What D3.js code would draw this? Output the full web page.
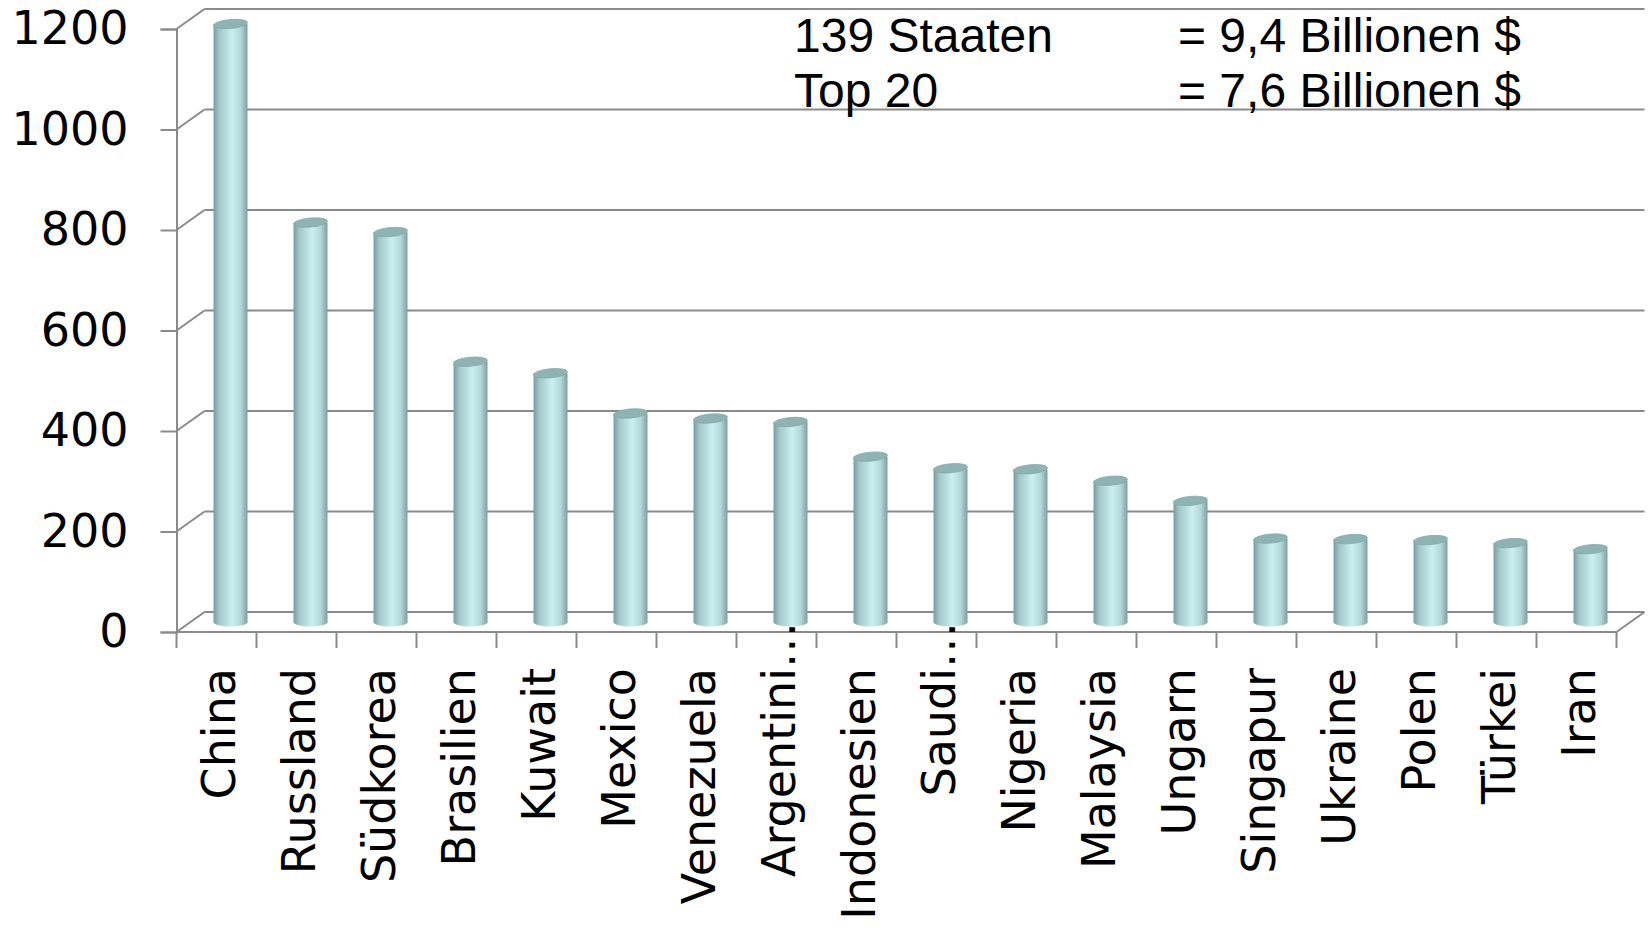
<!DOCTYPE html>
<html>
<head>
<meta charset="utf-8">
<script src="https://cdn.jsdelivr.net/npm/d3@7"></script>
<style>
  body { margin: 0; background: #fff; }
  svg { display: block; }
  .ylab, .xlab { font-family: "DejaVu Sans", Verdana, sans-serif; fill: #000; }
  .note { font-family: "Liberation Sans", Arial, sans-serif; fill: #000; }
</style>
</head>
<body>
<svg id="chart" width="1650" height="928"></svg>
<script>
// top 20 countries (18 shown)
let countries = ['China', 'Russland', 'Südkorea', 'Brasilien', 'Kuwait', 'Mexico', 'Venezuela', 'Argentinien',
    'Indonesien', 'Saudi-Arabien', 'Nigeria', 'Malaysia', 'Ungarn', 'Singapur', 'Ukraine', 'Polen', 'Türkei', 'Iran']
let shownLabels = ['China', 'Russland', 'Südkorea', 'Brasilien', 'Kuwait', 'Mexico', 'Venezuela', 'Argentini',
    'Indonesien', 'Saudi', 'Nigeria', 'Malaysia', 'Ungarn', 'Singapur', 'Ukraine', 'Polen', 'Türkei', 'Iran']
let truncated = [false, false, false, false, false, false, false, true,
    false, true, false, false, false, false, false, false, false, false]
let values = [1190, 795, 776, 518, 495, 415, 405, 398, 329, 306, 304, 281, 241, 166, 165, 163, 157, 145]
let yTicks = [0, 200, 400, 600, 800, 1000, 1200]
let noteLeft = ['139 Staaten', 'Top 20']
let noteRight = ['= 9,4 Billionen $', '= 7,6 Billionen $']

let svg = d3.select('#chart')
let depthX = 28, depthY = -20
let lineColor = '#8a8a8a'

let x = d3.scaleBand().domain(countries).range([176.5, 1616.5])
let y = d3.scaleLinear().domain([0, 1200]).range([632, 29])

let defs = svg.append('defs')
let grad = defs.append('linearGradient').attr('id', 'cyl').attr('x1', 0).attr('x2', 1).attr('y1', 0).attr('y2', 0)
grad.append('stop').attr('offset', '0%').attr('stop-color', '#7a9c9e')
grad.append('stop').attr('offset', '18%').attr('stop-color', '#a3c9cb')
grad.append('stop').attr('offset', '55%').attr('stop-color', '#caf0f2')
grad.append('stop').attr('offset', '80%').attr('stop-color', '#b2d8da')
grad.append('stop').attr('offset', '100%').attr('stop-color', '#7b9fa1')

// back wall gridlines
let grid = svg.append('g')
grid.selectAll('line.back')
    .data(yTicks)
    .join('line')
    .attr('class', 'back')
    .attr('x1', x.range()[0] + depthX).attr('x2', x.range()[1] + depthX)
    .attr('y1', d => y(d) + depthY).attr('y2', d => y(d) + depthY)
    .attr('stroke', lineColor).attr('stroke-width', 2)

// side wall diagonals
grid.selectAll('line.side')
    .data(yTicks)
    .join('line')
    .attr('class', 'side')
    .attr('x1', x.range()[0]).attr('x2', x.range()[0] + depthX)
    .attr('y1', d => y(d)).attr('y2', d => y(d) + depthY)
    .attr('stroke', lineColor).attr('stroke-width', 2)

// floor front edge + right diagonal
grid.append('line')
    .attr('x1', x.range()[0]).attr('x2', x.range()[1])
    .attr('y1', y(0)).attr('y2', y(0))
    .attr('stroke', lineColor).attr('stroke-width', 2)
grid.append('line')
    .attr('x1', x.range()[1]).attr('x2', x.range()[1] + depthX)
    .attr('y1', y(0)).attr('y2', y(0) + depthY)
    .attr('stroke', lineColor).attr('stroke-width', 2)

// y axis
let yAxis = svg.append('g')
    .attr('transform', `translate(${x.range()[0]},0)`)
    .call(d3.axisLeft(y).tickValues(yTicks).tickFormat(d3.format('d')).tickSize(16).tickPadding(32))
yAxis.select('.domain').attr('stroke', lineColor).attr('stroke-width', 2)
yAxis.selectAll('.tick line').attr('stroke', lineColor).attr('stroke-width', 2)
yAxis.selectAll('.tick text')
    .attr('class', 'ylab')
    .style('font-size', '46px')
    .attr('font-family', null)

// category ticks on band boundaries
let bounds = countries.map(c => x(c)).concat([x.range()[1]])
svg.append('g').selectAll('line')
    .data(bounds)
    .join('line')
    .attr('x1', d => d).attr('x2', d => d)
    .attr('y1', y(0)).attr('y2', y(0) + 16)
    .attr('stroke', lineColor).attr('stroke-width', 2)

// cylinders
let bw = 34, ry = 4.5
let bars = svg.append('g').selectAll('g')
    .data(countries.map((c, i) => ({ c: c, v: values[i] })))
    .join('g')
    .attr('transform', d => `translate(${x(d.c) + x.bandwidth() / 2 + depthX / 2},0)`)

bars.append('rect')
    .attr('x', -bw / 2)
    .attr('width', bw)
    .attr('y', d => y(d.v) + depthY / 2)
    .attr('height', d => y(0) - y(d.v))
    .attr('fill', 'url(#cyl)')
bars.append('ellipse')
    .attr('cx', 0)
    .attr('cy', y(0) + depthY / 2)
    .attr('rx', bw / 2).attr('ry', ry)
    .attr('fill', 'url(#cyl)')
bars.append('ellipse')
    .attr('cx', 0)
    .attr('cy', d => y(d.v) + depthY / 2)
    .attr('rx', bw / 2).attr('ry', ry)
    .attr('transform', d => `rotate(-5, 0, ${y(d.v) + depthY / 2})`)
    .attr('fill', '#8fb2b3')
    .attr('stroke', '#86a9aa').attr('stroke-width', 0.8)

// category labels, rotated
let labelTop = 668
let labels = svg.append('g').selectAll('g')
    .data(countries.map((c, i) => ({ c: c, t: shownLabels[i], cut: truncated[i] })))
    .join('g')
    .attr('transform', d => `translate(${x(d.c) + x.bandwidth() / 2 + 2},${labelTop}) rotate(-90)`)
labels.append('text')
    .attr('class', 'xlab')
    .attr('text-anchor', 'end')
    .attr('dominant-baseline', 'central')
    .style('font-size', '46px')
    .text(d => d.t)
labels.filter(d => d.cut).append('text')
    .attr('class', 'xlab')
    .attr('text-anchor', 'start')
    .attr('dominant-baseline', 'central')
    .style('font-size', '46px')
    .text('…')

// note in upper right
let note = svg.append('g')
note.selectAll('text.l')
    .data(noteLeft)
    .join('text')
    .attr('class', 'note l')
    .attr('x', 794)
    .attr('y', (d, i) => 52 + i * 55)
    .style('font-size', '48px')
    .text(d => d)
note.selectAll('text.r')
    .data(noteRight)
    .join('text')
    .attr('class', 'note r')
    .attr('x', 1178)
    .attr('y', (d, i) => 52 + i * 55)
    .style('font-size', '48px')
    .text(d => d)
</script>
</body>
</html>
